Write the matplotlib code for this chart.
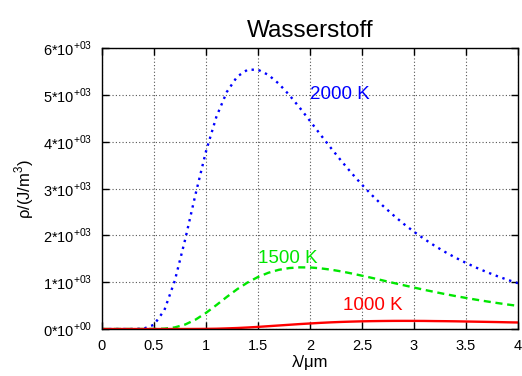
import matplotlib
matplotlib.use("Agg")
import matplotlib.pyplot as plt

plt.rcParams['font.family'] = ['Liberation Sans', 'DejaVu Sans']

# wavelength in micrometres
lam = [0.0, 0.1, 0.2, 0.3, 0.4, 0.5, 0.6, 0.7, 0.8, 0.9,
       1.0, 1.1, 1.2, 1.3, 1.4, 1.5, 1.6, 1.7, 1.8, 1.9,
       2.0, 2.1, 2.2, 2.3, 2.4, 2.5, 2.6, 2.7, 2.8, 2.9,
       3.0, 3.1, 3.2, 3.3, 3.4, 3.5, 3.6, 3.7, 3.8, 3.9, 4.0]

rho_2000 = [0, 0, 0, 0, 8, 91, 403, 1032, 1914, 2884,
            3793, 4532, 5061, 5390, 5537, 5536, 5425, 5238, 4998, 4728,
            4442, 4152, 3868, 3592, 3328, 3080, 2848, 2632, 2433, 2246,
            2076, 1920, 1775, 1643, 1522, 1411, 1309, 1215, 1129, 1050, 978]

rho_1500 = [0, 0, 0, 0, 0, 1, 7, 34, 96, 201,
            344, 511, 685, 850, 993, 1111, 1201, 1264, 1301, 1316,
            1314, 1296, 1267, 1230, 1186, 1138, 1089, 1037, 985, 935,
            885, 836, 790, 745, 703, 663, 625, 589, 555, 523, 493]

rho_1000 = [0, 0, 0, 0, 0, 0, 0, 0, 0, 1,
            3, 6, 13, 21, 32, 45, 60, 75, 90, 105,
            118, 131, 142, 151, 158, 164, 168, 171, 173, 173.5,
            173, 172, 169, 167, 164, 160, 156, 152, 148, 143, 139]

curve_labels = ['2000 K', '1500 K', '1000 K']
label_pos = [(2.0, 5000), (1.5, 1500), (2.32, 500)]

xticks = [0, 0.5, 1, 1.5, 2, 2.5, 3, 3.5, 4]
xtick_labels = ['0', '0.5', '1', '1.5', '2', '2.5', '3', '3.5', '4']
yticks = [0, 1000, 2000, 3000, 4000, 5000, 6000]
ytick_labels = ['0*10$^{\\mathregular{+00}}$'] + \
    ['%d*10$^{\\mathregular{+03}}$' % k for k in range(1, 7)]


def main():
    fig = plt.figure(figsize=(5.22, 3.76), dpi=100)
    ax = fig.add_axes([102 / 522, 1 - 329 / 376, 416 / 522, 281 / 376])

    colors = ['#0000ff', '#00e600', '#ff0000']
    ax.plot(lam, rho_2000, color=colors[0], linestyle=(0, (1, 2)), lw=1.7)
    ax.plot(lam, rho_1500, color=colors[1], linestyle=(0, (3, 2)), lw=1.7)
    ax.plot(lam, rho_1000, color=colors[2], linestyle='-', lw=1.7)

    for text, (x, y), c in zip(curve_labels, label_pos, colors):
        ax.text(x, y, text, color=c, fontsize=13.5, ha='left', va='center')

    ax.set_xlim(0, 4)
    ax.set_ylim(0, 6000)
    ax.set_xticks(xticks)
    ax.set_xticklabels(xtick_labels)
    ax.set_yticks(yticks)
    ax.set_yticklabels(ytick_labels)
    ax.tick_params(direction='in', length=5, width=1, top=True, right=True,
                   labelsize=10.5, pad=7)

    ax.grid(True, color='#555555', linestyle=(0, (1, 2)), lw=0.8)
    for s in ax.spines.values():
        s.set_linewidth(1.0)

    ax.set_xlabel('λ/μm', fontsize=12, labelpad=2)
    ax.set_ylabel('ρ/(J/m$^{\\mathregular{3}}$)', fontsize=12, labelpad=5)
    ax.set_title('Wasserstoff', fontsize=17.5, pad=8)

    fig.savefig('out.png', dpi=100)
    plt.close(fig)


if __name__ == "__main__":
    main()
